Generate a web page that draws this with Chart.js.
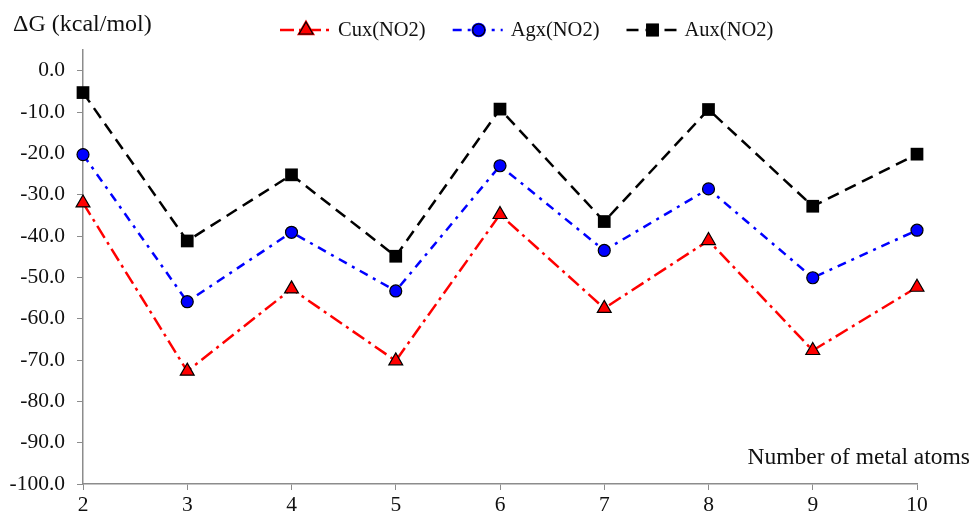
<!DOCTYPE html>
<html>
<head>
<meta charset="utf-8">
<script src="https://cdn.jsdelivr.net/npm/chart.js@4"></script>
<style>
  body { margin: 0; background: #fff; }
  #wrap { width: 974px; height: 517px; }
</style>
</head>
<body>
<div id="wrap"><canvas id="my-chart" width="974" height="517"></canvas></div>
<script>
// values
const atomCounts = ['2', '3', '4', '5', '6', '7', '8', '9', '10'];
const cuValues = [-32.0, -72.7, -52.8, -70.2, -34.8, -57.5, -41.1, -67.7, -52.4];
const agValues = [-20.3, -55.9, -39.1, -53.3, -23.0, -43.5, -28.6, -50.1, -38.6];
const auValues = [-5.3, -41.2, -25.2, -44.9, -9.3, -36.5, -9.4, -32.8, -20.2];

const serif = '"Liberation Serif", "DejaVu Serif", serif';
const axisGrey = '#8c8c8c';

const series = [
  { label: 'Cux(NO2)', data: cuValues, color: '#ff0000', dash: [14, 5, 3, 5], style: 'triangle', radius: 8 },
  { label: 'Agx(NO2)', data: agValues, color: '#0000ff', dash: [9, 6, 3, 6], style: 'circle', radius: 6 },
  { label: 'Aux(NO2)', data: auValues, color: '#000000', dash: [12, 7], style: 'rect', radius: 9 }
];

// draws the axis titles and a line+marker legend
const extras = {
  id: 'extras',
  afterDraw(chart) {
    const ctx = chart.ctx;
    ctx.save();
    ctx.fillStyle = '#111';
    ctx.textBaseline = 'alphabetic';
    ctx.textAlign = 'left';
    ctx.font = '24px ' + serif;
    ctx.fillText('\u0394G (kcal/mol)', 13, 31);
    ctx.textAlign = 'right';
    ctx.font = '23.5px ' + serif;
    ctx.fillText('Number of metal atoms', 970, 464);

    // legend
    ctx.font = '20.5px ' + serif;
    ctx.textAlign = 'left';
    ctx.textBaseline = 'middle';
    let x = 280;
    const y = 30;
    chart.data.datasets.forEach(ds => {
      ctx.strokeStyle = ds.borderColor;
      ctx.lineWidth = 2.5;
      ctx.setLineDash(ds.borderDash);
      ctx.beginPath();
      ctx.moveTo(x, y);
      ctx.lineTo(x + 50, y);
      ctx.stroke();
      ctx.setLineDash([]);
      Chart.helpers.drawPoint(ctx, {
        pointStyle: ds.pointStyle,
        radius: ds.pointRadius,
        borderWidth: ds.pointBorderWidth
      }, x + 26, y);
      ctx.fillStyle = ds.pointBackgroundColor;
      ctx.strokeStyle = '#000';
      ctx.lineWidth = ds.pointBorderWidth;
      ctx.fill();
      if (ds.pointBorderWidth > 0) ctx.stroke();
      ctx.fillStyle = '#111';
      ctx.fillText(ds.label, x + 58, y + 1);
      x += 58 + ctx.measureText(ds.label).width + 27;
    });
    ctx.restore();
  }
};

const ctx = document.getElementById('my-chart').getContext('2d');
const chart = new Chart(ctx, {
  type: 'line',
  data: {
    labels: atomCounts,
    datasets: series.map(s => ({
      label: s.label,
      data: s.data,
      borderColor: s.color,
      borderWidth: 2.5,
      borderDash: s.dash,
      pointStyle: s.style,
      pointRadius: s.radius,
      pointHoverRadius: s.radius,
      pointBackgroundColor: s.color,
      pointBorderColor: '#000',
      pointBorderWidth: s.style === 'rect' ? 0 : 1.2,
      tension: 0,
      fill: false
    }))
  },
  options: {
    responsive: false,
    animation: false,
    layout: { padding: { top: 50, right: 57, left: 0, bottom: 0 } },
    plugins: {
      legend: { display: false },
      tooltip: { enabled: false }
    },
    scales: {
      x: {
        offset: false,
        grid: { drawOnChartArea: false, color: axisGrey, tickLength: 6, tickColor: axisGrey },
        border: { color: axisGrey, width: 1.5 },
        ticks: { color: '#111', font: { family: serif, size: 21.5 }, padding: 2, maxRotation: 0 },
        afterFit(scale) { scale.height = 33; }
      },
      y: {
        min: -100,
        max: 5,
        grid: { drawOnChartArea: false, color: axisGrey, tickLength: 6, tickColor: axisGrey },
        border: { color: axisGrey, width: 1.5 },
        ticks: {
          stepSize: 5,
          color: '#111',
          font: { family: serif, size: 21.5 },
          padding: 12,
          callback: v => (v % 10 === 0 ? v.toFixed(1) : '')
        },
        afterFit(scale) { scale.width = 83; }
      }
    }
  },
  plugins: [extras]
});
</script>
</body>
</html>
